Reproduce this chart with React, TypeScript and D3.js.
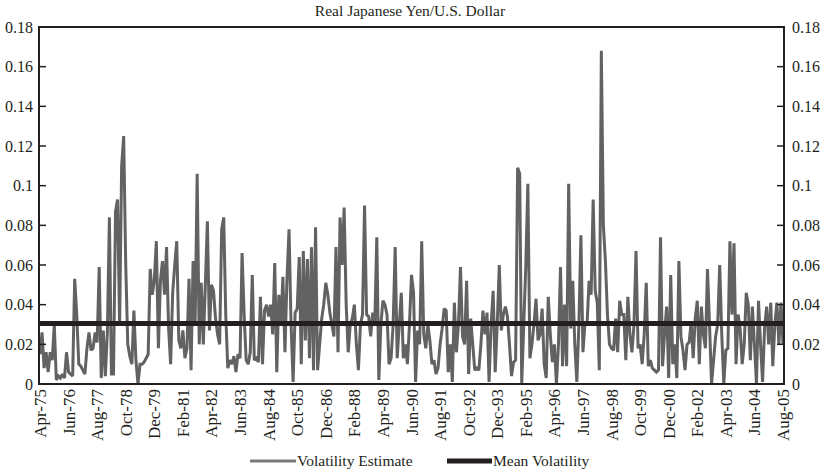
import React from "react";
import * as d3 from "d3";

// monthly volatility estimates, Apr-75 .. Aug-05
const vol1975 = [
  0.015, 0.026, 0.008, 0.016, 0.006, 0.016, 0.012, 0.03, 0.002, 0.004,
  0.003, 0.005, 0.003, 0.016, 0.006, 0.005, 0.004, 0.053, 0.035, 0.01,
  0.009, 0.007, 0.005, 0.018, 0.026, 0.017, 0.018, 0.026, 0.021, 0.059,
  0.003, 0.027, 0.004, 0.026, 0.084, 0.005, 0.005, 0.087, 0.093, 0.03,
  0.11, 0.125, 0.06, 0.02, 0.014, 0.01, 0.037, 0.012, 0.0, 0.01,
  0.01, 0.011, 0.013, 0.015, 0.058, 0.045, 0.052, 0.072, 0.018, 0.052,
];
const vol1980 = [
  0.062, 0.045, 0.069, 0.028, 0.01, 0.046, 0.06, 0.072, 0.022, 0.018,
  0.027, 0.013, 0.018, 0.053, 0.007, 0.062, 0.03, 0.106, 0.02, 0.051,
  0.02, 0.05, 0.082, 0.027, 0.05, 0.047, 0.033, 0.025, 0.02, 0.078,
  0.084, 0.035, 0.008, 0.012, 0.01, 0.014, 0.006, 0.015, 0.013, 0.066,
  0.035, 0.012, 0.01, 0.016, 0.055, 0.012, 0.013, 0.011, 0.044, 0.01,
  0.037, 0.04, 0.034, 0.04, 0.025, 0.061, 0.006, 0.045, 0.03, 0.054,
];
const vol1985 = [
  0.016, 0.053, 0.078, 0.03, 0.001, 0.036, 0.038, 0.064, 0.01, 0.067,
  0.022, 0.063, 0.013, 0.069, 0.007, 0.079, 0.007, 0.02, 0.033, 0.04,
  0.051, 0.045, 0.036, 0.03, 0.024, 0.069, 0.016, 0.084, 0.06, 0.089,
  0.04, 0.016, 0.03, 0.033, 0.04, 0.02, 0.007, 0.03, 0.035, 0.09,
  0.035, 0.034, 0.024, 0.036, 0.03, 0.074, 0.002, 0.03, 0.042, 0.04,
  0.035, 0.01, 0.013, 0.03, 0.069, 0.013, 0.03, 0.046, 0.013, 0.02,
];
const vol1990 = [
  0.01, 0.03, 0.055, 0.046, 0.001, 0.027, 0.02, 0.072, 0.025, 0.018,
  0.03, 0.022, 0.01, 0.012, 0.005, 0.008, 0.02, 0.028, 0.038, 0.037,
  0.006, 0.02, 0.001, 0.041, 0.016, 0.03, 0.059, 0.024, 0.02, 0.052,
  0.005, 0.033, 0.02, 0.007, 0.008, 0.007, 0.02, 0.037, 0.025, 0.036,
  0.001, 0.03, 0.047, 0.006, 0.03, 0.06, 0.027, 0.035, 0.039, 0.034,
  0.02, 0.004, 0.011, 0.012, 0.109, 0.106, 0.0, 0.03, 0.06, 0.101,
];
const vol1995 = [
  0.013, 0.02, 0.03, 0.043, 0.022, 0.025, 0.038, 0.01, 0.003, 0.044,
  0.025, 0.011, 0.02, 0.0, 0.02, 0.059, 0.009, 0.04, 0.009, 0.101,
  0.028, 0.052, 0.02, 0.001, 0.03, 0.075, 0.016, 0.031, 0.03, 0.052,
  0.045, 0.093, 0.047, 0.041, 0.007, 0.168, 0.08, 0.062, 0.035, 0.02,
  0.018, 0.017, 0.033, 0.016, 0.042, 0.035, 0.035, 0.012, 0.044, 0.025,
  0.016, 0.03, 0.067, 0.018, 0.02, 0.01, 0.025, 0.051, 0.009, 0.012,
];
const vol2000 = [
  0.008, 0.007, 0.006, 0.007, 0.074, 0.009, 0.026, 0.039, 0.003, 0.055,
  0.01, 0.02, 0.003, 0.062, 0.024, 0.017, 0.007, 0.02, 0.021, 0.031,
  0.013, 0.033, 0.042, 0.01, 0.039, 0.025, 0.018, 0.058, 0.03, 0.0,
  0.012, 0.024, 0.03, 0.06, 0.025, 0.0, 0.017, 0.018, 0.072, 0.035,
  0.071, 0.01, 0.035, 0.028, 0.01, 0.02, 0.046, 0.04, 0.012, 0.039,
  0.02, 0.0, 0.042, 0.02, 0.001, 0.029, 0.039, 0.02, 0.041, 0.009,
  0.03, 0.041, 0.02, 0.041, 0.02,
];
const volatility = [...vol1975, ...vol1980, ...vol1985, ...vol1990, ...vol1995, ...vol2000];

const meanVolatility = 0.0305;

const tickLabels = [
  "Apr-75", "Jun-76", "Aug-77", "Oct-78", "Dec-79", "Feb-81", "Apr-82", "Jun-83", "Aug-84",
  "Oct-85", "Dec-86", "Feb-88", "Apr-89", "Jun-90", "Aug-91", "Oct-92", "Dec-93", "Feb-95",
  "Apr-96", "Jun-97", "Aug-98", "Oct-99", "Dec-00", "Feb-02", "Apr-03", "Jun-04", "Aug-05",
];
const tickStep = 14; // months between labels
const yTicks = [0, 0.02, 0.04, 0.06, 0.08, 0.1, 0.12, 0.14, 0.16, 0.18];

const W = 828, H = 473;
const left = 39, right = 784, top = 27, bottom = 384;
const font = "'Liberation Serif', 'DejaVu Serif', serif";

export default function App() {
  const x = d3.scaleLinear().domain([0, volatility.length - 1]).range([left + 1, right - 1]);
  const y = d3.scaleLinear().domain([0, 0.18]).range([bottom, top]);
  const line = d3.line<number>().x((_, i) => x(i)).y((d) => y(d));
  const fmt = (d: number) => (d === 0 ? "0" : String(+d.toFixed(2)));

  return (
    <svg width={W} height={H} style={{ position: "absolute", left: 0, top: 0 }} fontFamily={font}>
      <text x={410} y={16} textAnchor="middle" fontSize={15.5} fill="#231f20">Real Japanese Yen/U.S. Dollar</text>

      <path d={line(volatility) || ""} fill="none" stroke="#626262" strokeWidth={3} strokeLinejoin="miter" strokeMiterlimit={2} />
      <line x1={left} x2={right} y1={y(meanVolatility)} y2={y(meanVolatility)} stroke="#231f20" strokeWidth={5} />

      <rect x={left} y={top} width={right - left} height={bottom - top} fill="none" stroke="#231f20" strokeWidth={2} />

      {yTicks.map((t) => (
        <g key={t}>
          <line x1={left} x2={left + 7} y1={y(t)} y2={y(t)} stroke="#231f20" strokeWidth={1.5} />
          <line x1={right - 7} x2={right} y1={y(t)} y2={y(t)} stroke="#231f20" strokeWidth={1.5} />
          <text x={33} y={y(t)} dy="0.35em" textAnchor="end" fontSize={16} fill="#231f20">{fmt(t)}</text>
          <text x={792} y={y(t)} dy="0.35em" textAnchor="start" fontSize={16} fill="#231f20">{fmt(t)}</text>
        </g>
      ))}

      {tickLabels.map((lab, k) => {
        const tx = x(k * tickStep) + 6;
        return (
          <text key={lab} transform={`translate(${tx},389) rotate(-90)`} textAnchor="end" fontSize={17} fill="#231f20">
            {lab}
          </text>
        );
      })}

      <line x1={250} x2={296} y1={461} y2={461} stroke="#7a7a7a" strokeWidth={3} />
      <text x={297} y={466} fontSize={15.5} fill="#231f20">Volatility Estimate</text>
      <line x1={447} x2={492} y1={461} y2={461} stroke="#231f20" strokeWidth={5} />
      <text x={493} y={466} fontSize={15.5} fill="#231f20">Mean Volatility</text>
    </svg>
  );
}
